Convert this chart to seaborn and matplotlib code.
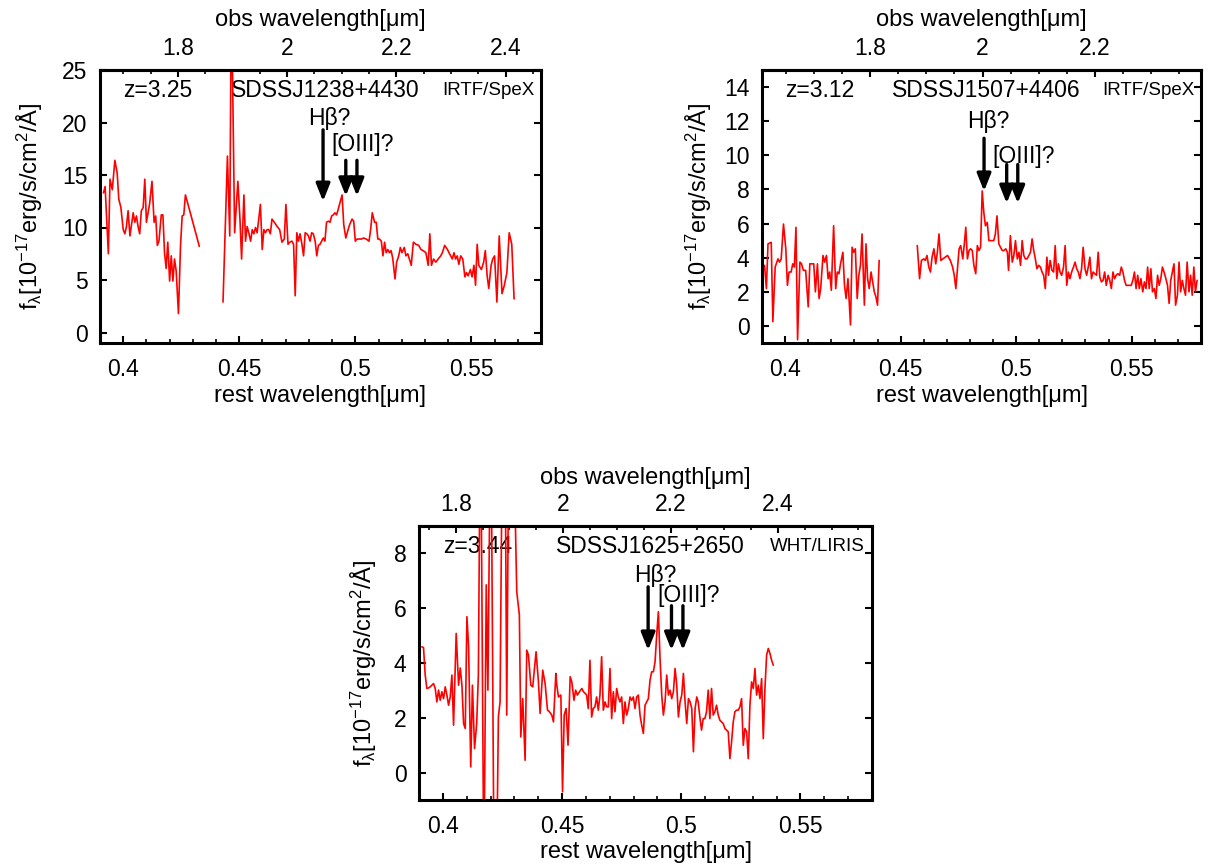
import matplotlib
matplotlib.use("Agg")
import matplotlib.pyplot as plt
import seaborn as sns
from matplotlib.ticker import MultipleLocator, FixedLocator, NullLocator

# ---------------- data (rest wavelength [um], f_lambda [1e-17 erg/s/cm2/A]) ----------------
# SDSSJ1238+4430
p1_seg1_wl = [0.3915, 0.3922, 0.3936, 0.3943, 0.3953, 0.3964, 0.3974, 0.3981, 0.3990, 0.4000,
              0.4007, 0.4014, 0.4021, 0.4029, 0.4036, 0.4043, 0.4050, 0.4057, 0.4064, 0.4071,
              0.4078, 0.4086, 0.4093, 0.4100, 0.4107, 0.4114, 0.4124, 0.4133, 0.4140, 0.4147,
              0.4154, 0.4164, 0.4171, 0.4178, 0.4185, 0.4192, 0.4200, 0.4207, 0.4214, 0.4221,
              0.4228, 0.4238, 0.4247, 0.4254, 0.4261, 0.4268, 0.4278, 0.4328]
p1_seg1_fx = [13.3, 13.9, 7.5, 14.6, 13.6, 16.4, 15.2, 12.7, 11.9, 9.8,
              9.4, 10.1, 11.6, 9.2, 10.3, 11.4, 10.5, 11.1, 10.1, 9.4,
              11.6, 11.9, 14.6, 10.5, 11.4, 12.3, 14.4, 10.5, 11.1, 8.3,
              8.7, 11.2, 11.2, 7.6, 6.1, 8.6, 4.9, 7.3, 4.9, 7.0,
              5.9, 1.8, 8.3, 11.1, 11.2, 13.1, 12.3, 8.2]
p1_seg2_wl = [0.4430, 0.4449, 0.4459, 0.4466, 0.4480, 0.4494, 0.4503, 0.4510, 0.4520, 0.4527,
              0.4534, 0.4542, 0.4549, 0.4556, 0.4563, 0.4570, 0.4577, 0.4584, 0.4591, 0.4599,
              0.4606, 0.4613, 0.4620, 0.4627, 0.4634, 0.4641, 0.4651, 0.4663, 0.4674, 0.4684,
              0.4694, 0.4701, 0.4710, 0.4717, 0.4727, 0.4734, 0.4741, 0.4748, 0.4755, 0.4762,
              0.4770, 0.4777, 0.4784, 0.4791, 0.4798, 0.4805, 0.4812, 0.4819, 0.4827, 0.4834,
              0.4841, 0.4848, 0.4855, 0.4862, 0.4869, 0.4876, 0.4884, 0.4891, 0.4898, 0.4905,
              0.4912, 0.4919, 0.4926, 0.4933, 0.4943, 0.4950, 0.4959, 0.4969, 0.4976, 0.4986,
              0.4993, 0.5000, 0.5007, 0.5016, 0.5026, 0.5036, 0.5047, 0.5059, 0.5066, 0.5073,
              0.5083, 0.5090, 0.5097, 0.5104, 0.5112, 0.5119, 0.5126, 0.5133, 0.5140, 0.5147,
              0.5154, 0.5161, 0.5171, 0.5178, 0.5187, 0.5194, 0.5201, 0.5211, 0.5218, 0.5226,
              0.5233, 0.5241, 0.5250, 0.5261, 0.5273, 0.5283, 0.5292, 0.5304, 0.5314, 0.5321,
              0.5328, 0.5337, 0.5347, 0.5357, 0.5368, 0.5375, 0.5385, 0.5397, 0.5406, 0.5418,
              0.5425, 0.5432, 0.5439, 0.5446, 0.5454, 0.5463, 0.5472, 0.5479, 0.5486, 0.5496,
              0.5503, 0.5511, 0.5518, 0.5525, 0.5532, 0.5543, 0.5553, 0.5560, 0.5568, 0.5575,
              0.5585, 0.5592, 0.5600, 0.5610, 0.5620, 0.5632, 0.5642, 0.5653, 0.5663, 0.5674,
              0.5684]
p1_seg2_fx = [2.9, 16.8, 9.2, 33.0, 9.5, 14.4, 10.8, 7.0, 13.1, 8.7,
              10.1, 9.4, 8.7, 9.8, 9.4, 10.0, 9.5, 10.8, 12.2, 7.9,
              9.8, 9.5, 9.8, 9.8, 9.4, 10.8, 10.5, 10.1, 9.8, 8.6,
              8.9, 12.2, 8.4, 8.6, 8.7, 8.4, 3.5, 9.5, 8.7, 9.4,
              8.4, 7.3, 9.5, 9.4, 9.2, 8.7, 9.5, 9.4, 8.7, 7.3,
              8.3, 8.4, 8.7, 9.0, 8.7, 10.5, 10.6, 10.5, 11.1, 11.2,
              11.4, 11.2, 11.7, 12.3, 13.1, 10.3, 9.0, 9.8, 10.3, 10.8,
              10.6, 8.7, 8.9, 8.9, 8.9, 9.0, 8.9, 8.7, 9.8, 11.4,
              10.5, 10.5, 8.9, 8.9, 8.7, 7.3, 8.6, 7.6, 7.9, 7.6,
              7.8, 7.1, 5.1, 6.7, 7.3, 8.1, 7.6, 8.1, 7.3, 7.5,
              7.0, 6.4, 8.6, 8.4, 8.3, 7.9, 7.8, 7.6, 6.4, 9.4,
              6.4, 7.0, 6.7, 7.0, 7.3, 7.6, 8.3, 7.9, 7.5, 7.0,
              7.6, 7.0, 7.3, 6.5, 7.3, 7.0, 5.3, 5.7, 5.4, 6.0,
              5.3, 6.4, 4.5, 8.4, 6.4, 6.0, 6.7, 7.8, 5.4, 4.2,
              6.4, 7.0, 7.3, 2.9, 9.2, 3.7, 4.5, 5.7, 9.5, 8.4,
              3.2]

# SDSSJ1507+4406
p2_seg1_wl = [0.3911, 0.3919, 0.3926, 0.3940, 0.3947, 0.3957, 0.3969, 0.3976, 0.3983, 0.3993,
              0.4003, 0.4010, 0.4017, 0.4026, 0.4033, 0.4040, 0.4047, 0.4054, 0.4064, 0.4071,
              0.4079, 0.4089, 0.4100, 0.4107, 0.4117, 0.4124, 0.4131, 0.4140, 0.4147, 0.4154,
              0.4164, 0.4171, 0.4179, 0.4186, 0.4193, 0.4200, 0.4210, 0.4219, 0.4226, 0.4233,
              0.4240, 0.4250, 0.4257, 0.4264, 0.4272, 0.4283, 0.4290, 0.4297, 0.4304, 0.4312,
              0.4319, 0.4326, 0.4333, 0.4343, 0.4350, 0.4357, 0.4364, 0.4372, 0.4379, 0.4386,
              0.4393, 0.4400, 0.4407]
p2_seg1_fx = [3.55, 2.19, 4.81, 4.90, 0.25, 3.45, 3.93, 3.74, 3.93, 5.97,
              4.52, 2.38, 3.16, 3.16, 3.64, 3.45, 5.78, -0.81, 3.74, 3.64,
              3.26, 3.26, 1.12, 3.64, 3.64, 3.64, 2.00, 3.64, 1.61, 2.19,
              4.13, 3.74, 4.13, 2.77, 3.16, 2.09, 5.87, 2.19, 3.16, 3.06,
              3.64, 4.32, 2.38, 1.61, 2.77, 0.06, 4.61, 4.32, 4.52, 1.61,
              2.97, 3.55, 5.39, 1.22, 4.81, 2.77, 2.19, 3.16, 2.58, 2.00,
              1.71, 1.22, 3.84]
p2_seg2_wl = [0.4572, 0.4582, 0.4590, 0.4600, 0.4607, 0.4614, 0.4622, 0.4629, 0.4636, 0.4644,
              0.4652, 0.4659, 0.4666, 0.4674, 0.4683, 0.4693, 0.4703, 0.4715, 0.4725, 0.4732,
              0.4739, 0.4746, 0.4753, 0.4760, 0.4769, 0.4775, 0.4782, 0.4789, 0.4796, 0.4803,
              0.4810, 0.4817, 0.4825, 0.4832, 0.4839, 0.4846, 0.4853, 0.4860, 0.4867, 0.4875,
              0.4882, 0.4889, 0.4896, 0.4903, 0.4910, 0.4917, 0.4925, 0.4932, 0.4940, 0.4947,
              0.4955, 0.4962, 0.4967, 0.4975, 0.4983, 0.4990, 0.4997, 0.5005, 0.5012, 0.5019,
              0.5026, 0.5033, 0.5040, 0.5047, 0.5055, 0.5062, 0.5069, 0.5076, 0.5083, 0.5090,
              0.5097, 0.5105, 0.5112, 0.5119, 0.5126, 0.5133, 0.5140, 0.5147, 0.5155, 0.5162,
              0.5169, 0.5176, 0.5183, 0.5190, 0.5197, 0.5205, 0.5212, 0.5219, 0.5226, 0.5233,
              0.5240, 0.5248, 0.5255, 0.5262, 0.5269, 0.5276, 0.5283, 0.5290, 0.5298, 0.5305,
              0.5312, 0.5319, 0.5326, 0.5333, 0.5340, 0.5348, 0.5355, 0.5362, 0.5369, 0.5376,
              0.5383, 0.5390, 0.5398, 0.5405, 0.5412, 0.5419, 0.5426, 0.5433, 0.5440, 0.5448,
              0.5455, 0.5462, 0.5469, 0.5476, 0.5483, 0.5490, 0.5498, 0.5505, 0.5512, 0.5519,
              0.5526, 0.5533, 0.5540, 0.5548, 0.5555, 0.5562, 0.5569, 0.5576, 0.5583, 0.5590,
              0.5598, 0.5605, 0.5612, 0.5619, 0.5626, 0.5633, 0.5640, 0.5648, 0.5655, 0.5662,
              0.5669, 0.5676, 0.5683, 0.5690, 0.5698, 0.5705, 0.5712, 0.5719, 0.5726, 0.5733,
              0.5740, 0.5748, 0.5755, 0.5762, 0.5769, 0.5776, 0.5783]
p2_seg2_fx = [4.71, 2.77, 3.84, 3.93, 3.84, 4.13, 3.45, 3.16, 4.03, 4.52,
              3.64, 4.32, 5.39, 3.84, 3.93, 4.03, 4.13, 3.84, 3.45, 2.97,
              2.19, 3.35, 4.52, 4.71, 3.93, 4.71, 5.78, 3.93, 4.42, 4.52,
              4.42, 3.55, 3.06, 4.71, 4.42, 4.61, 7.91, 6.65, 5.87, 6.07,
              5.00, 5.00, 5.00, 5.00, 5.39, 6.45, 4.81, 4.61, 4.42, 4.42,
              4.52, 4.32, 3.26, 5.29, 3.74, 4.13, 5.00, 3.93, 4.32, 3.55,
              5.00, 4.13, 3.93, 3.93, 4.13, 4.32, 5.10, 4.42, 3.93, 3.35,
              3.55, 3.45, 3.16, 2.97, 2.19, 4.03, 2.97, 3.84, 3.26, 3.16,
              4.71, 2.77, 3.64, 3.16, 2.97, 3.45, 4.71, 2.38, 3.16, 2.77,
              3.16, 3.45, 3.74, 3.35, 3.16, 2.77, 3.35, 4.61, 3.35, 2.97,
              3.45, 4.03, 2.77, 3.16, 3.06, 2.97, 4.32, 2.87, 2.58, 2.67,
              3.16, 2.38, 2.97, 2.67, 2.19, 3.16, 2.77, 2.97, 3.06, 2.97,
              3.45, 3.16, 2.67, 2.38, 2.38, 2.38, 2.38, 2.67, 3.16, 2.19,
              2.97, 2.19, 2.77, 2.00, 2.58, 2.19, 3.45, 2.19, 3.35, 2.00,
              2.19, 1.61, 2.97, 2.38, 2.77, 3.45, 3.16, 2.77, 2.38, 1.32,
              2.67, 3.16, 3.64, 1.22, 1.80, 3.74, 2.00, 2.67, 2.19, 1.80,
              3.74, 2.00, 2.97, 1.80, 3.45, 2.00, 2.67]

# SDSSJ1625+2650
p3_seg1_wl = [0.3912, 0.3919, 0.3926, 0.3933, 0.3940, 0.3947, 0.3954, 0.3961, 0.3968, 0.3975,
              0.3982, 0.3989, 0.3996, 0.4003, 0.4010, 0.4017, 0.4024, 0.4031, 0.4038, 0.4045,
              0.4056, 0.4066, 0.4073, 0.4080, 0.4087, 0.4094, 0.4101, 0.4108, 0.4117, 0.4124,
              0.4133, 0.4142, 0.4149, 0.4158, 0.4172, 0.4182, 0.4189, 0.4201, 0.4215, 0.4225,
              0.4233, 0.4240, 0.4251, 0.4260, 0.4268, 0.4278, 0.4293, 0.4310, 0.4321, 0.4327,
              0.4335, 0.4345, 0.4352, 0.4359, 0.4369, 0.4377, 0.4391, 0.4401, 0.4408, 0.4419,
              0.4429, 0.4439, 0.4447, 0.4457, 0.4464, 0.4474, 0.4478, 0.4485, 0.4495, 0.4502,
              0.4509, 0.4517, 0.4525, 0.4534, 0.4541, 0.4550, 0.4557, 0.4564, 0.4573, 0.4583,
              0.4590, 0.4597, 0.4603, 0.4610, 0.4617, 0.4624, 0.4631, 0.4638, 0.4645, 0.4652,
              0.4659, 0.4666, 0.4673, 0.4680, 0.4687, 0.4694, 0.4701, 0.4708, 0.4715, 0.4722,
              0.4729, 0.4736, 0.4743, 0.4750, 0.4757, 0.4764, 0.4771, 0.4778, 0.4785, 0.4792,
              0.4799, 0.4806, 0.4813, 0.4820, 0.4827, 0.4834, 0.4841, 0.4848, 0.4855, 0.4862,
              0.4869, 0.4876, 0.4883, 0.4890, 0.4897, 0.4904, 0.4911, 0.4918, 0.4925, 0.4932,
              0.4939, 0.4946, 0.4953, 0.4960, 0.4967, 0.4974, 0.4981, 0.4988, 0.4995, 0.5002,
              0.5009, 0.5016, 0.5023, 0.5030, 0.5037, 0.5044, 0.5051, 0.5058, 0.5065, 0.5071,
              0.5078, 0.5085, 0.5092, 0.5099, 0.5106, 0.5113, 0.5120, 0.5127, 0.5134, 0.5141,
              0.5148, 0.5155, 0.5162, 0.5169, 0.5176, 0.5183, 0.5190, 0.5197, 0.5204, 0.5211,
              0.5218, 0.5225, 0.5232, 0.5239, 0.5246, 0.5253, 0.5260, 0.5267, 0.5274, 0.5281,
              0.5288, 0.5295, 0.5302, 0.5309, 0.5316, 0.5323, 0.5330, 0.5337, 0.5344, 0.5351,
              0.5358, 0.5365, 0.5372, 0.5379, 0.5386]
p3_seg1_fx = [4.59, 4.56, 3.56, 3.07, 3.09, 3.13, 3.19, 3.25, 3.07, 2.58,
              3.01, 2.64, 2.95, 2.70, 3.13, 2.83, 2.46, 2.76, 3.56, 1.73,
              5.08, 3.19, 3.82, 3.19, 1.79, 1.61, 5.69, 4.59, 0.21, 3.19,
              0.88, 1.79, 3.56, 14.0, -4.0, 6.85, 3.01, 14.0, -4.0, -4.0,
              2.03, 2.58, 14.0, 14.0, 2.10, 14.0, 14.0, 6.60, 5.75, 1.30,
              2.70, 0.45, 4.47, 4.29, 3.19, 3.13, 4.41, 3.31, 2.16, 3.74,
              3.25, 2.28, 2.22, 2.10, 1.85, 3.62, 3.19, 2.76, 2.83, -0.70,
              2.10, 2.34, 1.00, 3.50, 3.31, 2.64, 3.01, 2.83, 2.95, 3.07,
              2.95, 2.89, 2.83, 2.34, 4.10, 2.03, 2.34, 2.40, 2.76, 2.28,
              2.83, 4.23, 2.28, 2.58, 2.40, 2.40, 3.80, 1.97, 2.95, 2.22,
              3.07, 2.76, 2.58, 2.76, 1.79, 2.58, 2.10, 2.34, 2.76, 2.64,
              2.76, 2.34, 2.76, 2.83, 2.10, 1.73, 1.43, 2.46, 2.58, 2.70,
              3.37, 3.68, 3.68, 4.04, 5.02, 5.87, 4.17, 2.83, 2.10, 2.58,
              3.56, 2.83, 3.01, 2.70, 2.95, 3.80, 3.19, 2.03, 2.58, 2.83,
              3.62, 2.58, 1.79, 2.70, 2.58, 2.34, 0.76, 2.34, 2.76, 2.58,
              2.03, 1.55, 1.97, 1.97, 2.22, 3.01, 1.97, 3.07, 2.10, 2.22,
              2.46, 2.10, 1.91, 1.85, 1.79, 1.61, 1.55, 1.49, 0.51, 1.12,
              1.85, 2.22, 2.28, 2.28, 2.40, 2.70, 1.00, 1.61, 1.49, 0.51,
              2.46, 3.31, 3.07, 3.80, 2.83, 3.19, 2.70, 3.43, 1.24, 3.07,
              4.29, 4.53, 4.35, 4.10, 3.92]

names = ["SDSSJ1238+4430", "SDSSJ1507+4406", "SDSSJ1625+2650"]
redshifts = [3.25, 3.12, 3.44]
instruments = ["IRTF/SpeX", "IRTF/SpeX", "WHT/LIRIS"]
y_limits = [(-1, 25), (-1, 15), (-1, 9)]
y_ticks = [[0, 5, 10, 15, 20, 25], [0, 2, 4, 6, 8, 10, 12, 14], [0, 2, 4, 6, 8]]
obs_ticks = [[1.8, 2.0, 2.2, 2.4], [1.8, 2.0, 2.2], [1.8, 2.0, 2.2, 2.4]]
obs_labels = [["1.8", "2", "2.2", "2.4"], ["1.8", "2", "2.2"], ["1.8", "2", "2.2", "2.4"]]
rest_ticks = [0.40, 0.45, 0.50, 0.55]
rest_labels = ["0.4", "0.45", "0.5", "0.55"]
# line markers: rest wavelength, arrow top, arrow tip
hb_wl = 0.4861
oiii_wl = [0.4959, 0.5007]
hb_arrow = [(19.3, 12.5), (11.0, 7.9), (6.78, 4.47)]
oiii_arrow = [(16.4, 13.0), (9.46, 7.19), (6.09, 4.47)]
hb_text = [(0.4886, 20.4), (0.4879, 11.98), (0.4890, 7.19)]
oiii_text = [(0.5033, 17.9), (0.5032, 9.94), (0.5030, 6.48)]

segments = [
    [(p1_seg1_wl, p1_seg1_fx), (p1_seg2_wl, p1_seg2_fx)],
    [(p2_seg1_wl, p2_seg1_fx), (p2_seg2_wl, p2_seg2_fx)],
    [(p3_seg1_wl, p3_seg1_fx)],
]

# ---------------- style ----------------
sns.set_theme(style="white")
plt.rcParams["font.family"] = ["Liberation Sans", "DejaVu Sans"]
plt.rcParams["mathtext.fontset"] = "custom"
plt.rcParams["mathtext.rm"] = "Liberation Sans"
plt.rcParams["mathtext.it"] = "Liberation Sans"
plt.rcParams["mathtext.default"] = "regular"
for key in ["text.color", "axes.labelcolor", "xtick.color", "ytick.color", "axes.edgecolor"]:
    plt.rcParams[key] = "black"

FS = 16.5
FS_LAB = 17
fig = plt.figure(figsize=(12.09, 8.67), dpi=100)
positions = [
    [100 / 1209, (867 - 343) / 867, 441 / 1209, 273 / 867],
    [762 / 1209, (867 - 343) / 867, 439 / 1209, 273 / 867],
    [419 / 1209, (867 - 800) / 867, 453 / 1209, 274 / 867],
]
ylabel_x = [-0.125, -0.11, -0.088]
xlabel_y = [-0.155, -0.155, -0.148]
top_labelpad = [8, 8, 7]

for i in range(3):
    ax = fig.add_axes(positions[i])
    for wl, fx in segments[i]:
        sns.lineplot(x=wl, y=fx, ax=ax, color="#ff0000", lw=1.2, sort=False,
                     estimator=None, legend=False, zorder=2)
    ax.set_xlim(0.39, 0.58)
    ax.set_ylim(*y_limits[i])
    ax.xaxis.set_major_locator(FixedLocator(rest_ticks))
    ax.set_xticklabels(rest_labels)
    ax.xaxis.set_minor_locator(MultipleLocator(0.01))
    ax.yaxis.set_major_locator(FixedLocator(y_ticks[i]))
    ax.set_yticklabels([str(v) for v in y_ticks[i]])
    ax.yaxis.set_minor_locator(NullLocator())
    ax.tick_params(axis="both", which="both", direction="in", bottom=True, left=True,
                   top=False, right=True, labelsize=FS, colors="black")
    ax.tick_params(axis="both", which="major", length=5, width=1.5)
    ax.tick_params(axis="both", which="minor", length=3, width=1.2)
    ax.tick_params(axis="x", pad=10.5)
    ax.tick_params(axis="y", pad=9)
    for sp in ax.spines.values():
        sp.set_linewidth(2.2)
        sp.set_color("black")
    ax.set_xlabel("rest wavelength[μm]", fontsize=FS_LAB)
    ax.xaxis.set_label_coords(0.5, xlabel_y[i])
    ax.set_ylabel(r"f$_\lambda$[10$^{-17}$erg/s/cm$^2$/Å]", fontsize=FS_LAB)
    ax.yaxis.set_label_coords(ylabel_x[i], 0.5)

    f = 1 + redshifts[i]
    sec = ax.secondary_xaxis("top", functions=(lambda x, f=f: x * f, lambda x, f=f: x / f))
    sec.xaxis.set_major_locator(FixedLocator(obs_ticks[i]))
    sec.set_xticklabels(obs_labels[i])
    sec.xaxis.set_minor_locator(MultipleLocator(0.05))
    sec.tick_params(axis="x", which="both", direction="in", top=True, labelsize=FS, pad=7,
                    colors="black")
    sec.tick_params(axis="x", which="major", length=5, width=1.5)
    sec.tick_params(axis="x", which="minor", length=3, width=1.2)
    sec.spines["top"].set_linewidth(2.2)
    sec.set_xlabel("obs wavelength[μm]", fontsize=FS_LAB, labelpad=top_labelpad[i])

    # annotations
    ax.text(0.053, 0.925, f"z={redshifts[i]:.2f}", transform=ax.transAxes, fontsize=FS,
            ha="left", va="center", zorder=1)
    ax.text(0.51, 0.925, names[i], transform=ax.transAxes, fontsize=FS,
            ha="center", va="center", zorder=1)
    ax.text(0.985, 0.925, instruments[i], transform=ax.transAxes, fontsize=13.5,
            ha="right", va="center", zorder=1)
    ax.text(hb_text[i][0], hb_text[i][1], "Hβ?", fontsize=FS, ha="center", va="center", zorder=1)
    ax.text(oiii_text[i][0], oiii_text[i][1], "[OIII]?", fontsize=FS, ha="center", va="center",
            zorder=1)
    arrow_kw = dict(arrowstyle="-|>,head_length=0.75,head_width=0.3", color="black", lw=2.4,
                    shrinkA=0, shrinkB=0, mutation_scale=14)
    ax.annotate("", xy=(hb_wl, hb_arrow[i][1]), xytext=(hb_wl, hb_arrow[i][0]),
                arrowprops=arrow_kw)
    for w in oiii_wl:
        ax.annotate("", xy=(w, oiii_arrow[i][1]), xytext=(w, oiii_arrow[i][0]),
                    arrowprops=arrow_kw)

fig.savefig("out.png", dpi=100)
